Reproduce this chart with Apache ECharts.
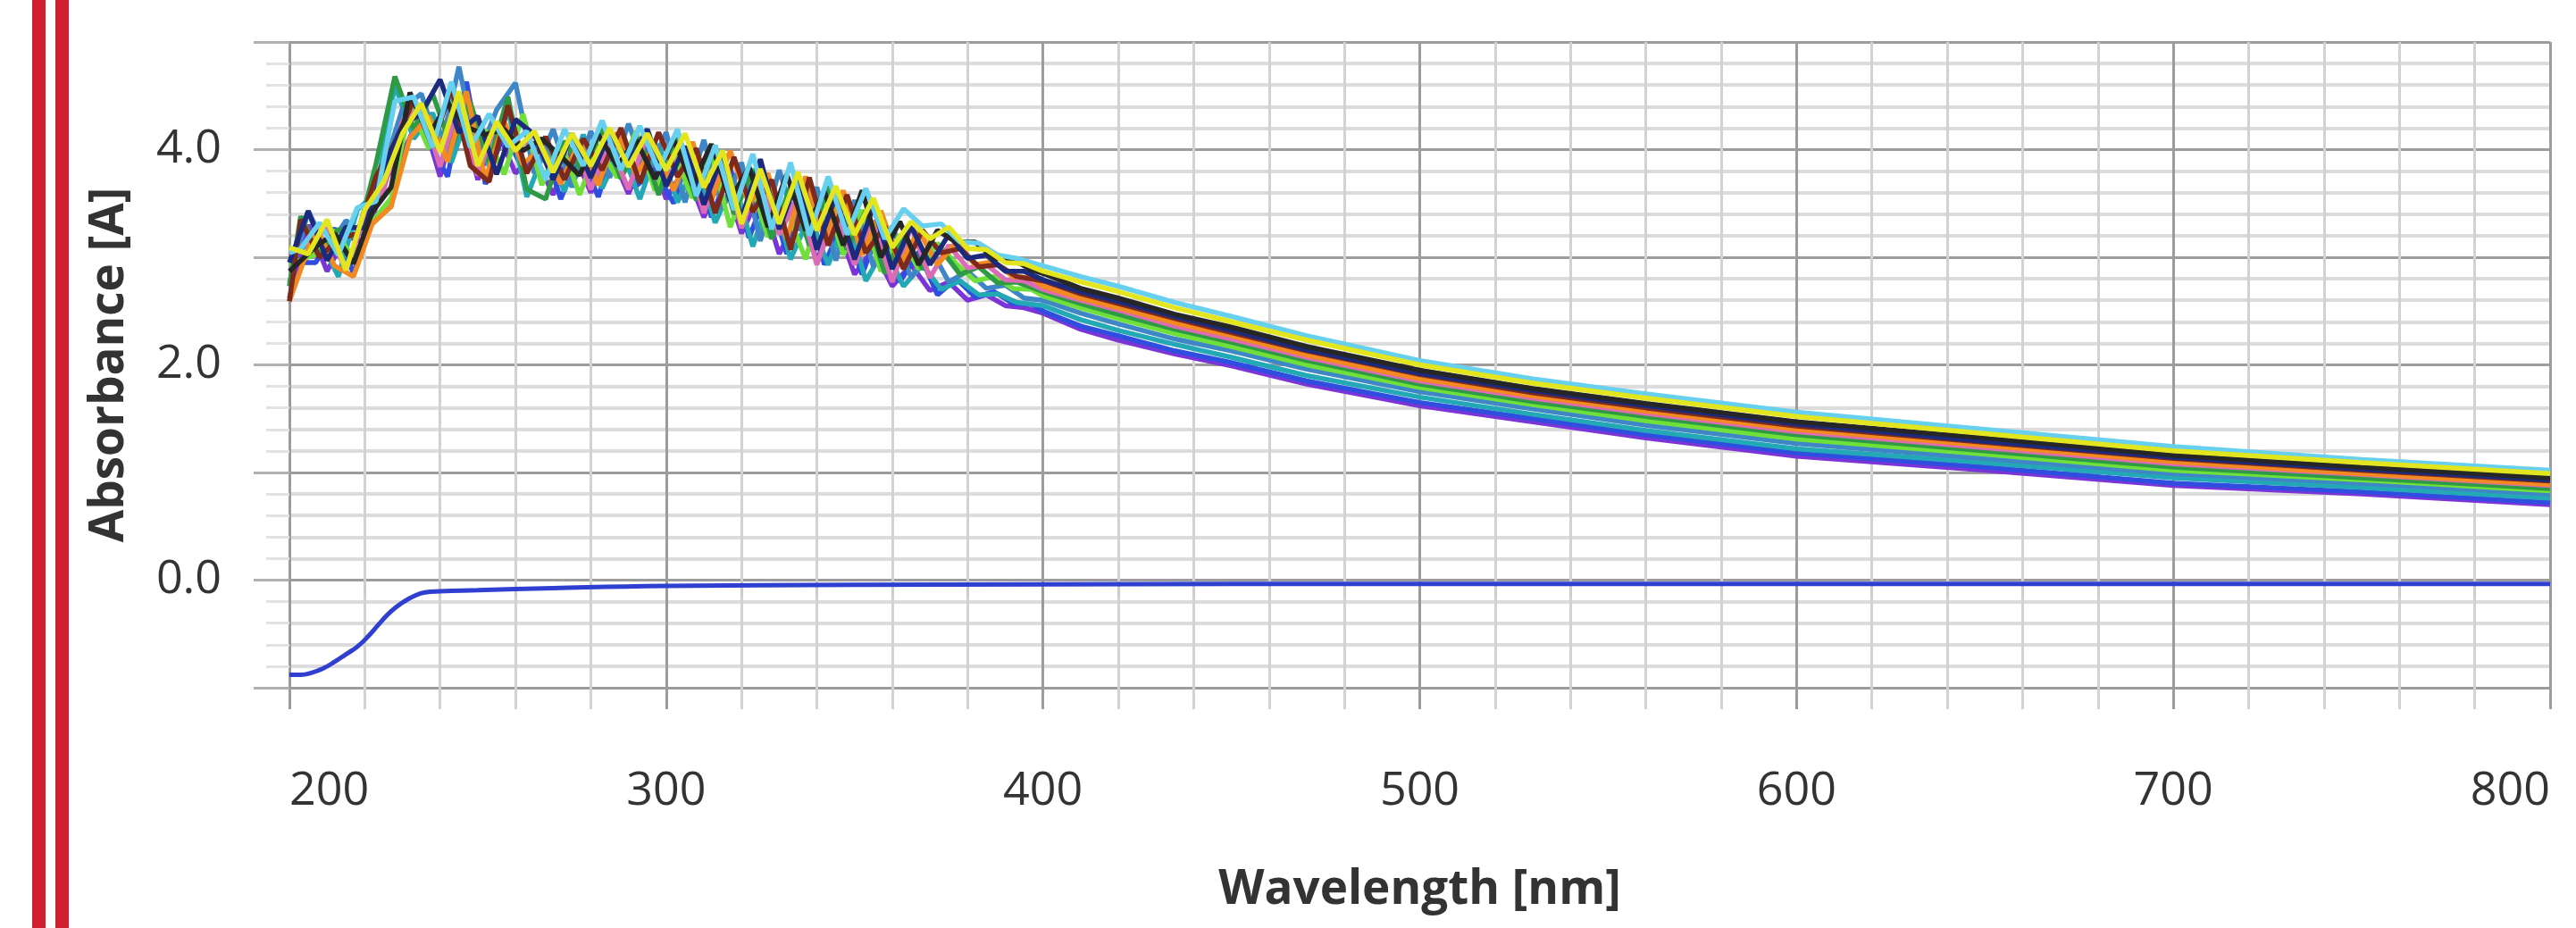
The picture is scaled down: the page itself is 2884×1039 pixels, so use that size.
<!DOCTYPE html>
<html>
<head>
<meta charset="utf-8">
<script src="https://cdn.jsdelivr.net/npm/echarts@6/dist/echarts.min.js"></script>
<style>
html,body{margin:0;padding:0;background:#ffffff;}
#chart{width:2884px;height:1039px;}
</style>
</head>
<body>
<div id="chart"></div>
<script>
// ---------- DATA ----------
// three slightly different sampling grids (the scans are not sampled in phase)
const nmA = [200,205,210,215,220,225,230,235,240,245,250,255,260,265,270,275,280,285,290,295,300,305,310,315,320,325,330,335,340,345,350,355,360,365,370,375,380,385,390,395,400,410,420,435,450,470,500,530,560,600,650,700,750,800];
const nmB = [200,207,212,217,222,227,232,237,242,247,252,257,262,267,272,277,282,287,292,297,302,307,312,317,322,327,332,337,342,347,352,357,362,367,372,377,382,387,392,397,400,410,420,435,450,470,500,530,560,600,650,700,750,800];
const nmC = [200,203,208,213,218,223,228,233,238,243,248,253,258,263,268,273,278,283,288,293,298,303,308,313,318,323,328,333,338,343,348,353,358,363,368,373,378,383,388,393,400,410,420,435,450,470,500,530,560,600,650,700,750,800];

const specPurple = [2.62,3.30,2.87,3.20,3.13,3.70,3.96,4.34,3.75,4.39,3.72,4.19,3.78,3.96,3.58,4.01,3.60,3.99,3.59,4.03,3.54,3.83,3.37,3.78,3.22,3.60,3.03,3.39,2.98,3.34,2.84,3.08,2.73,2.93,2.69,2.77,2.60,2.65,2.55,2.53,2.48,2.33,2.23,2.10,1.99,1.82,1.62,1.47,1.32,1.15,1.02,0.88,0.80,0.70];
const specBlue = [2.95,2.95,3.27,2.85,3.35,3.47,4.49,4.07,3.75,4.63,3.68,4.16,3.82,4.10,3.54,3.97,3.56,4.13,3.66,3.81,3.50,4.07,3.37,3.83,3.18,3.64,3.03,3.61,2.93,3.34,2.84,3.30,2.77,3.05,2.65,2.80,2.63,2.68,2.57,2.56,2.50,2.36,2.27,2.13,2.02,1.85,1.65,1.50,1.35,1.18,1.05,0.90,0.82,0.72];
const specTeal = [3.07,3.08,3.17,2.82,3.44,3.60,4.60,4.10,4.34,3.88,4.39,3.84,4.37,3.56,4.01,3.61,4.14,3.64,4.02,3.54,4.05,3.51,3.89,3.32,3.71,3.10,3.63,2.98,3.38,2.93,3.39,2.78,3.09,2.73,2.93,2.70,2.78,2.65,2.66,2.58,2.55,2.42,2.32,2.19,2.07,1.90,1.70,1.54,1.39,1.22,1.09,0.95,0.86,0.76];
const specSteel = [2.76,3.43,3.07,3.34,3.20,3.82,4.38,4.52,3.98,4.77,3.93,4.37,4.62,3.78,4.19,3.65,4.17,3.74,4.24,3.77,4.16,3.51,4.09,3.45,3.88,3.15,3.81,3.25,3.65,2.97,3.53,2.91,3.29,2.81,3.09,2.77,2.87,2.71,2.74,2.62,2.60,2.48,2.38,2.24,2.13,1.96,1.75,1.59,1.44,1.27,1.13,0.99,0.90,0.80];
const specLime = [2.93,3.03,3.25,2.99,3.33,3.55,4.41,4.01,4.47,4.07,4.18,3.77,4.33,3.67,4.08,3.58,4.03,3.74,4.17,3.62,3.97,3.55,3.97,3.28,3.75,3.19,3.44,2.98,3.61,3.02,3.44,2.87,3.21,2.89,3.13,2.94,2.78,2.82,2.71,2.70,2.64,2.53,2.43,2.29,2.17,2.00,1.79,1.63,1.48,1.31,1.17,1.02,0.93,0.83];
const specGreen = [2.73,3.38,3.02,3.26,3.18,3.87,4.68,4.19,4.52,4.02,4.44,3.88,4.49,3.63,3.54,4.08,3.78,4.20,3.73,4.11,3.58,4.11,3.53,4.04,3.40,3.82,3.17,3.66,3.11,3.66,3.07,3.43,2.85,3.21,2.89,3.07,2.84,2.91,2.76,2.77,2.68,2.57,2.47,2.33,2.21,2.04,1.82,1.66,1.52,1.35,1.20,1.05,0.95,0.85];
const specPink = [3.01,3.15,3.27,2.88,3.38,3.62,4.26,4.40,3.84,4.44,3.76,4.26,3.99,4.14,3.72,4.15,3.63,4.06,3.63,4.15,3.70,4.03,3.41,3.95,3.27,3.78,3.21,3.57,2.93,3.43,2.93,3.34,2.77,3.29,2.81,3.11,2.90,2.93,2.79,2.78,2.70,2.60,2.51,2.36,2.24,2.07,1.85,1.69,1.55,1.38,1.23,1.08,0.98,0.88];
const specOrange = [2.59,3.28,2.92,2.82,3.31,3.47,4.11,4.31,3.89,4.54,3.72,4.26,3.86,4.03,3.68,4.08,3.67,4.16,3.77,4.03,3.62,4.07,3.53,3.99,3.49,3.78,3.17,3.75,3.16,3.62,3.02,3.43,2.93,3.25,2.93,3.14,2.93,2.96,2.82,2.81,2.73,2.62,2.53,2.39,2.27,2.09,1.87,1.71,1.57,1.40,1.25,1.10,0.99,0.89];
const specBrown = [2.59,3.35,3.00,3.17,3.22,3.75,4.07,4.46,4.02,4.58,3.85,3.70,4.41,3.78,4.12,3.72,4.10,3.81,4.20,3.69,4.16,3.75,4.01,3.41,3.93,3.42,3.72,3.07,3.74,3.11,3.58,3.04,3.29,2.89,3.25,3.04,3.08,2.91,2.93,2.82,2.78,2.66,2.57,2.43,2.30,2.13,1.91,1.74,1.60,1.43,1.28,1.13,1.02,0.92];
const specNavy = [2.95,3.43,2.97,3.28,3.27,3.82,4.22,4.34,4.65,4.16,4.31,3.77,4.28,4.14,3.72,4.15,3.74,4.16,3.88,4.19,3.66,4.03,3.49,3.95,3.36,3.91,3.26,3.75,3.07,3.57,2.98,3.47,2.89,3.29,2.93,3.21,2.99,3.02,2.87,2.87,2.79,2.68,2.59,2.45,2.32,2.14,1.92,1.76,1.62,1.45,1.29,1.14,1.03,0.93];
const specBlack = [2.87,3.10,3.22,2.94,3.42,3.65,4.53,4.13,4.43,4.21,4.14,4.19,3.99,4.10,3.94,3.76,4.14,3.85,4.09,3.73,4.09,3.67,4.05,3.53,3.84,3.28,3.77,3.25,3.61,3.11,3.62,3.00,3.33,2.93,3.25,3.14,3.14,2.99,2.98,2.88,2.85,2.71,2.62,2.47,2.35,2.17,1.95,1.78,1.64,1.47,1.32,1.16,1.05,0.95];
const specCyan = [3.04,3.08,3.32,3.02,3.46,3.52,4.45,4.49,4.02,4.63,4.02,4.33,4.03,4.17,3.72,4.19,3.85,4.27,3.81,4.22,3.81,4.19,3.57,4.04,3.44,3.96,3.26,3.88,3.20,3.75,3.21,3.64,3.17,3.45,3.29,3.31,3.14,3.13,3.02,2.99,2.92,2.82,2.73,2.58,2.45,2.27,2.04,1.87,1.73,1.56,1.40,1.24,1.12,1.02];
const specYellow = [3.09,3.03,3.35,2.88,3.44,3.70,4.15,4.43,3.98,4.54,3.85,4.26,3.99,4.17,3.79,4.15,3.85,4.20,3.84,4.15,3.81,4.15,3.65,3.99,3.31,3.82,3.31,3.79,3.25,3.66,3.21,3.55,3.09,3.33,3.17,3.28,3.08,3.07,2.95,2.94,2.87,2.77,2.68,2.53,2.40,2.23,2.00,1.83,1.69,1.52,1.36,1.20,1.09,0.99];

const baselineNm  = [200,203,206,209,212,215,218,221,224,227,230,233,236,240,250,270,300,350,400,500,600,700,800];
const baselineAbs = [-0.88,-0.88,-0.86,-0.82,-0.76,-0.69,-0.62,-0.52,-0.40,-0.29,-0.21,-0.15,-0.115,-0.105,-0.095,-0.075,-0.055,-0.045,-0.04,-0.035,-0.035,-0.035,-0.035];

const xTickLabels = ['200','300','400','500','600','700','800'];
const yTickLabels = ['0.0','2.0','4.0'];

// ---------- CHART ----------
const spectra = [
  {nm: nmA, values: specPurple, color: '#7b35d6'},
  {nm: nmB, values: specBlue,   color: '#2f4ee0'},
  {nm: nmC, values: specTeal,   color: '#23a9b5'},
  {nm: nmA, values: specSteel,  color: '#3e86c6'},
  {nm: nmB, values: specLime,   color: '#6fe03a'},
  {nm: nmC, values: specGreen,  color: '#2f9a45'},
  {nm: nmA, values: specPink,   color: '#dc6bb5'},
  {nm: nmB, values: specOrange, color: '#f28a21'},
  {nm: nmC, values: specBrown,  color: '#7d2a1c'},
  {nm: nmA, values: specNavy,   color: '#1b2a7c'},
  {nm: nmB, values: specBlack,  color: '#262626'},
  {nm: nmC, values: specCyan,   color: '#66d0ee'},
  {nm: nmA, values: specYellow, color: '#e3e61e'}
];

const majorGray = '#9c9c9c';
const FONT = '"Open Sans", "Noto Sans", sans-serif';

const series = spectra.map((s, i) => ({
  type: 'line',
  xAxisIndex: 0, yAxisIndex: 0,
  data: s.nm.map((w, k) => [w, s.values[k]]),
  showSymbol: false,
  silent: true,
  lineStyle: {color: s.color, width: 5.5},
  itemStyle: {color: s.color},
  z: 3 + i * 0.01
}));
series.push({
  type: 'line',
  xAxisIndex: 0, yAxisIndex: 0,
  data: baselineNm.map((w, k) => [w, baselineAbs[k]]),
  smooth: true,
  showSymbol: false,
  silent: true,
  lineStyle: {color: '#2f3fd0', width: 5},
  itemStyle: {color: '#2f3fd0'},
  z: 4
});

const chart = echarts.init(document.getElementById('chart'), null, {renderer: 'canvas'});
chart.setOption({
  animation: false,
  backgroundColor: '#ffffff',
  grid: [
    {left: 324, right: 29, top: 47, bottom: 245},
    {left: 324, right: 29, top: 47, bottom: 269}
  ],
  xAxis: [
    {
      type: 'value', gridIndex: 0, min: 200, max: 800, interval: 100,
      offset: 8,
      axisLine: {show: false},
      axisTick: {show: true, length: 31, lineStyle: {color: '#9a9a9a', width: 3}},
      minorTick: {show: true, splitNumber: 5, length: 20, lineStyle: {color: '#cccccc', width: 3}},
      splitLine: {show: true, lineStyle: {color: majorGray, width: 3}},
      minorSplitLine: {show: true, lineStyle: {color: '#d2d2d2', width: 3}},
      axisLabel: {
        show: true, margin: 58, fontSize: 52, fontFamily: FONT, color: '#333333',
        alignMinLabel: 'left', alignMaxLabel: 'right',
        formatter: (v) => xTickLabels[Math.round((v - 200) / 100)]
      },
      name: 'Wavelength [nm]', nameLocation: 'middle', nameGap: 168,
      nameTextStyle: {fontSize: 53, fontWeight: 'bold', fontFamily: FONT, color: '#333333'}
    },
    {
      type: 'value', gridIndex: 1, min: 200, max: 800, interval: 100, show: false
    }
  ],
  yAxis: [
    {
      type: 'value', gridIndex: 0, min: -1.2, max: 5, show: false,
      splitLine: {show: false}
    },
    {
      type: 'value', gridIndex: 1, min: -1, max: 5, interval: 1,
      axisLine: {show: false},
      axisTick: {show: true, length: 40, lineStyle: {color: '#b0b0b0', width: 3}},
      minorTick: {show: true, splitNumber: 5, length: 26, lineStyle: {color: '#e2e2e2', width: 3}},
      splitLine: {show: true, lineStyle: {color: majorGray, width: 3}},
      minorSplitLine: {show: true, lineStyle: {color: '#dcdcdc', width: 4}},
      axisLabel: {
        show: true, margin: 76, fontSize: 52, fontFamily: FONT, color: '#333333',
        formatter: (v) => {
          const r = Math.round(v);
          const idx = yTickLabels.indexOf(r.toFixed(1));
          return (Math.abs(v - r) < 1e-6 && idx >= 0) ? yTickLabels[idx] : '';
        }
      },
      name: 'Absorbance [A]', nameLocation: 'middle', nameGap: 175, nameRotate: 90,
      nameTextStyle: {fontSize: 53, fontWeight: 'bold', fontFamily: FONT, color: '#333333'}
    }
  ],
  graphic: [
    {type: 'rect', left: 36, top: 0, shape: {width: 15, height: 1039}, style: {fill: '#d21f30'}, silent: true},
    {type: 'rect', left: 62, top: 0, shape: {width: 15, height: 1039}, style: {fill: '#d21f30'}, silent: true}
  ],
  series: series
});
</script>
</body>
</html>
